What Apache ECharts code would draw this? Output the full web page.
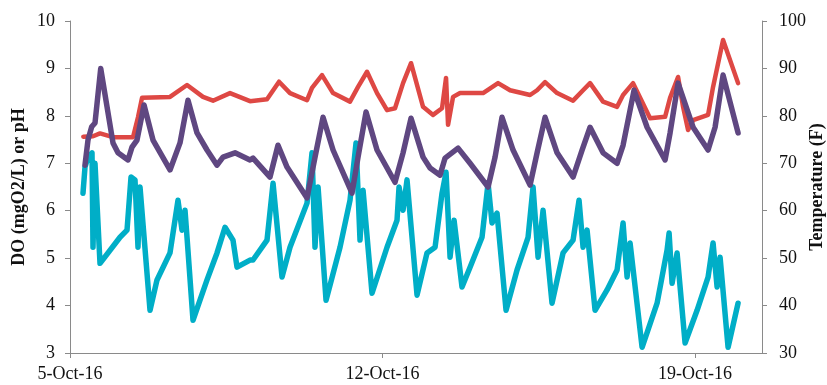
<!DOCTYPE html>
<html>
<head>
<meta charset="utf-8">
<script src="https://cdn.jsdelivr.net/npm/echarts@6/dist/echarts.min.js"></script>
<style>
  html, body { margin: 0; padding: 0; background: #fff; }
  #chart { width: 827px; height: 385px; }
</style>
</head>
<body>
<div id="chart"></div>
<script>
// x values are days after 5-Oct-16 00:00
const dateLabels = ['5-Oct-16', '12-Oct-16', '19-Oct-16']

const phDays = [0.298, 0.515, 0.672, 0.963, 1.411, 1.523, 1.613, 2.240, 2.621, 2.979, 3.203, 3.584, 4.032, 4.413, 4.682, 4.928, 5.309, 5.421, 5.645, 5.892, 6.272, 6.452, 6.653, 6.877, 7.101, 7.280, 7.460, 7.639, 7.908, 8.132, 8.333, 8.423, 8.468, 8.580, 8.737, 9.252, 9.588, 9.857, 10.305, 10.462, 10.641, 10.910, 11.268, 11.492, 11.649, 11.940, 12.254, 12.388, 12.612, 12.814, 12.993, 13.329, 13.441, 13.620, 13.732, 13.844, 13.956, 14.292, 14.404, 14.628, 14.964]
const phValues = [7.56, 7.57, 7.63, 7.55, 7.55, 7.97, 8.38, 8.40, 8.65, 8.40, 8.32, 8.48, 8.31, 8.35, 8.72, 8.48, 8.33, 8.59, 8.86, 8.48, 8.30, 8.61, 8.93, 8.48, 8.12, 8.16, 8.69, 9.11, 8.19, 8.02, 8.16, 8.80, 7.81, 8.40, 8.48, 8.48, 8.69, 8.54, 8.44, 8.54, 8.71, 8.48, 8.32, 8.54, 8.69, 8.30, 8.19, 8.44, 8.69, 8.30, 7.95, 7.98, 8.38, 8.82, 8.19, 7.70, 7.91, 8.02, 8.61, 9.60, 8.69]

const tempDays = [0.336, 0.403, 0.486, 0.560, 0.688, 0.963, 1.075, 1.299, 1.389, 1.501, 1.658, 1.859, 2.240, 2.464, 2.643, 2.845, 3.069, 3.293, 3.427, 3.696, 4.032, 4.099, 4.480, 4.659, 4.861, 5.309, 5.488, 5.668, 5.892, 6.317, 6.452, 6.631, 6.877, 7.280, 7.460, 7.639, 7.908, 8.065, 8.289, 8.401, 8.692, 8.961, 9.364, 9.521, 9.677, 9.924, 10.305, 10.462, 10.641, 10.910, 11.268, 11.470, 11.649, 11.940, 12.254, 12.388, 12.634, 12.926, 13.329, 13.441, 13.620, 13.956, 14.292, 14.449, 14.628, 14.964]
const tempValues = [69.6, 74.9, 77.7, 78.5, 90.0, 74.3, 72.2, 70.7, 73.4, 74.9, 82.3, 74.9, 68.6, 74.3, 83.3, 76.4, 72.8, 69.6, 71.3, 72.2, 70.7, 71.1, 67.1, 73.8, 69.2, 62.7, 71.3, 79.7, 72.8, 63.7, 71.3, 80.8, 72.8, 66.0, 72.2, 79.5, 71.3, 69.0, 67.5, 71.1, 73.2, 70.0, 65.0, 71.3, 79.7, 72.8, 65.4, 72.2, 79.7, 72.2, 67.1, 72.8, 77.6, 72.2, 70.0, 73.8, 85.4, 77.6, 70.7, 76.4, 86.9, 77.6, 72.8, 77.6, 88.6, 76.4]

const doDays = [0.291, 0.336, 0.403, 0.493, 0.515, 0.560, 0.672, 1.120, 1.277, 1.367, 1.456, 1.523, 1.568, 1.792, 1.949, 2.240, 2.419, 2.509, 2.576, 2.621, 2.755, 3.069, 3.293, 3.472, 3.651, 3.741, 4.032, 4.099, 4.413, 4.548, 4.749, 4.928, 5.309, 5.421, 5.488, 5.556, 5.735, 6.048, 6.272, 6.407, 6.496, 6.564, 6.765, 7.101, 7.325, 7.370, 7.460, 7.549, 7.773, 7.997, 8.177, 8.333, 8.423, 8.513, 8.602, 8.781, 8.961, 9.229, 9.364, 9.453, 9.565, 9.767, 10.013, 10.260, 10.372, 10.484, 10.596, 10.797, 11.044, 11.268, 11.402, 11.492, 11.582, 11.761, 12.030, 12.254, 12.388, 12.478, 12.545, 12.814, 13.150, 13.374, 13.419, 13.486, 13.598, 13.777, 14.046, 14.292, 14.404, 14.494, 14.561, 14.740, 14.964]
const doValues = [6.37, 6.92, 7.13, 7.22, 5.23, 7.00, 4.89, 5.44, 5.59, 6.71, 6.65, 5.23, 6.50, 3.90, 4.54, 5.11, 6.22, 5.59, 6.01, 5.44, 3.69, 4.54, 5.11, 5.65, 5.38, 4.81, 4.96, 4.96, 5.38, 6.58, 4.60, 5.23, 6.16, 7.22, 5.23, 6.50, 4.11, 5.23, 6.22, 7.43, 5.38, 6.43, 4.26, 5.23, 5.80, 6.50, 6.01, 6.65, 4.22, 5.11, 5.23, 6.37, 6.81, 5.02, 5.80, 4.39, 4.81, 5.44, 6.58, 5.74, 5.95, 3.90, 4.75, 5.44, 6.50, 5.02, 6.01, 4.05, 5.11, 5.38, 6.22, 5.23, 5.59, 3.90, 4.33, 4.75, 5.74, 4.60, 5.32, 3.12, 4.05, 5.17, 5.53, 4.47, 5.11, 3.21, 3.90, 4.60, 5.32, 4.39, 5.02, 3.12, 4.05]

const zip = (xs, ys) => xs.map((x, i) => [x, ys[i]])

const axisGrey = '#8a8a8a'
const font = '"Liberation Serif", "Times New Roman", serif'

const chart = echarts.init(document.getElementById('chart'), null, { renderer: 'canvas' })

const lineSeries = (name, data, color, width, yAxisIndex) => ({
  name,
  type: 'line',
  yAxisIndex,
  data,
  showSymbol: false,
  symbol: 'none',
  lineStyle: { color, width, join: 'round', cap: 'round' },
  animation: false
})

chart.setOption({
  animation: false,
  textStyle: { fontFamily: font },
  grid: { left: 70, right: 65, top: 21, bottom: 32, containLabel: false, outerBoundsMode: 'none' },
  xAxis: {
    type: 'value',
    min: 0,
    max: 15.5,
    interval: 7,
    axisLine: { lineStyle: { color: axisGrey, width: 1 } },
    axisTick: { show: true, length: 5, lineStyle: { color: axisGrey } },
    splitLine: { show: false },
    axisLabel: {
      color: '#111',
      fontSize: 18,
      fontFamily: font,
      margin: 12,
      showMaxLabel: false,
      formatter: v => dateLabels[Math.round(v / 7)] || ''
    }
  },
  yAxis: [
    {
      type: 'value',
      min: 3,
      max: 10,
      interval: 1,
      name: 'DO (mgO2/L) or pH',
      nameLocation: 'middle',
      nameGap: 42,
      nameMoveOverlap: false,
      nameTextStyle: { fontSize: 18, fontWeight: 'bold', fontFamily: font, color: '#111' },
      axisLine: { show: true, lineStyle: { color: axisGrey } },
      axisTick: { show: true, length: 5, lineStyle: { color: axisGrey } },
      splitLine: { show: false },
      axisLabel: { color: '#111', fontSize: 18, fontFamily: font, margin: 15 }
    },
    {
      type: 'value',
      min: 30,
      max: 100,
      interval: 10,
      position: 'right',
      name: 'Temperature (F)',
      nameLocation: 'middle',
      nameRotate: 90,
      nameGap: 46,
      nameMoveOverlap: false,
      nameTextStyle: { fontSize: 18, fontWeight: 'bold', fontFamily: font, color: '#111' },
      axisLine: { show: true, lineStyle: { color: axisGrey } },
      axisTick: { show: true, length: 5, lineStyle: { color: axisGrey } },
      splitLine: { show: false },
      axisLabel: { color: '#111', fontSize: 18, fontFamily: font, margin: 17 }
    }
  ],
  series: [
    lineSeries('DO', zip(doDays, doValues), '#00aec7', 5.5, 0),
    lineSeries('pH', zip(phDays, phValues), '#de4844', 4.5, 0),
    lineSeries('Temperature', zip(tempDays, tempValues), '#5f4781', 5.5, 1)
  ]
})
</script>
</body>
</html>
